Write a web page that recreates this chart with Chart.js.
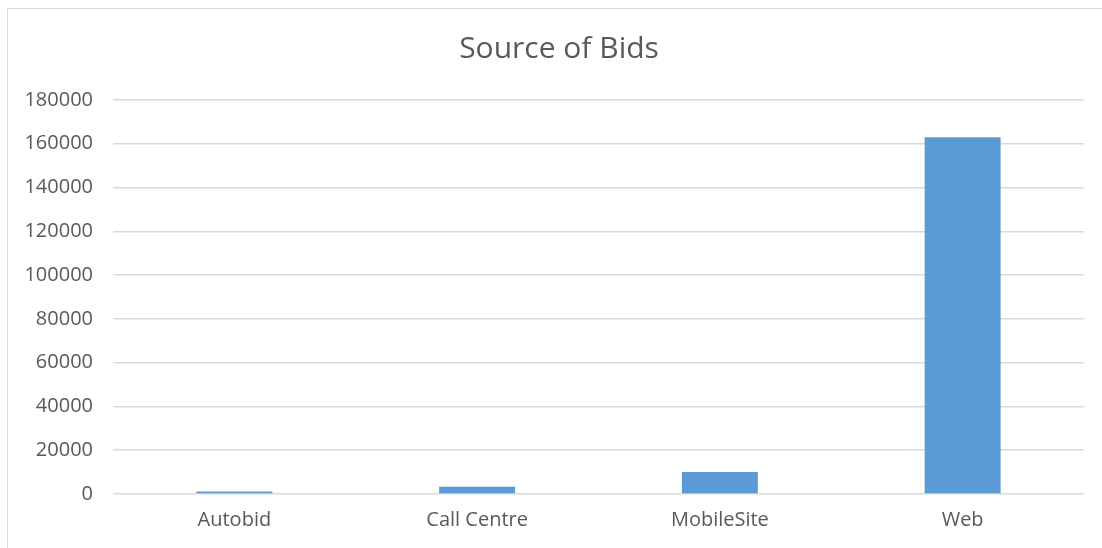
<!DOCTYPE html>
<html lang="en">
<head>
  <meta charset="UTF-8" />
  <title>Source of Bids</title>
  <script src="https://cdn.jsdelivr.net/npm/chart.js"></script>
  <style>
    body { margin: 0; background: #fff; overflow: hidden; }
    #frame { position: absolute; left: 7px; top: 8px; width: 1110px; height: 560px; border: 1px solid #d9d9d9; }
    #wrap { position: absolute; left: 0; top: 0; width: 1118px; height: 548px; }
  </style>
</head>
<body>
  <div id="frame"></div>
  <div id="wrap"><canvas id="bidsChart"></canvas></div>

  <script>
    // data
    const categories = ['Autobid', 'Call Centre', 'MobileSite', 'Web'];
    const bids = [1100, 3300, 10100, 163000];

    const grey = '#595959';
    const fontFam = '"Open Sans", sans-serif';

    const ctx = document.getElementById('bidsChart').getContext('2d');

    const bidsChart = new Chart(ctx, {
      type: 'bar',
      data: {
        labels: categories,
        datasets: [{
          label: 'Bids',
          data: bids,
          backgroundColor: '#5b9bd5',
          categoryPercentage: 1,
          barPercentage: 0.313
        }]
      },
      options: {
        responsive: true,
        maintainAspectRatio: false,
        animation: false,
        layout: { padding: 0 },
        plugins: {
          legend: { display: false },
          tooltip: { enabled: false },
          title: {
            display: true,
            text: 'Source of Bids',
            color: grey,
            font: { family: fontFam, size: 30, weight: 'normal' },
            padding: { top: 31, bottom: 33 }
          }
        },
        scales: {
          x: {
            grid: { display: false, drawTicks: false },
            border: { display: false },
            ticks: { color: grey, font: { family: fontFam, size: 20 }, padding: 14 },
            afterFit: (s) => { s.height = 54; }
          },
          y: {
            min: 0,
            max: 180000,
            grid: { color: '#d9d9d9', lineWidth: 1.5, drawTicks: false },
            border: { display: false },
            ticks: {
              stepSize: 20000,
              color: grey,
              font: { family: fontFam, size: 20 },
              padding: 20,
              callback: (v) => String(v)
            },
            afterFit: (s) => { s.width = 113; }
          },
          // empty spacer on the right so the plot ends where the frame's does
          spacer: {
            type: 'linear',
            position: 'right',
            grid: { display: false },
            border: { display: false },
            ticks: { display: false },
            afterFit: (s) => { s.width = 34; }
          }
        }
      }
    });
  </script>
</body>
</html>
